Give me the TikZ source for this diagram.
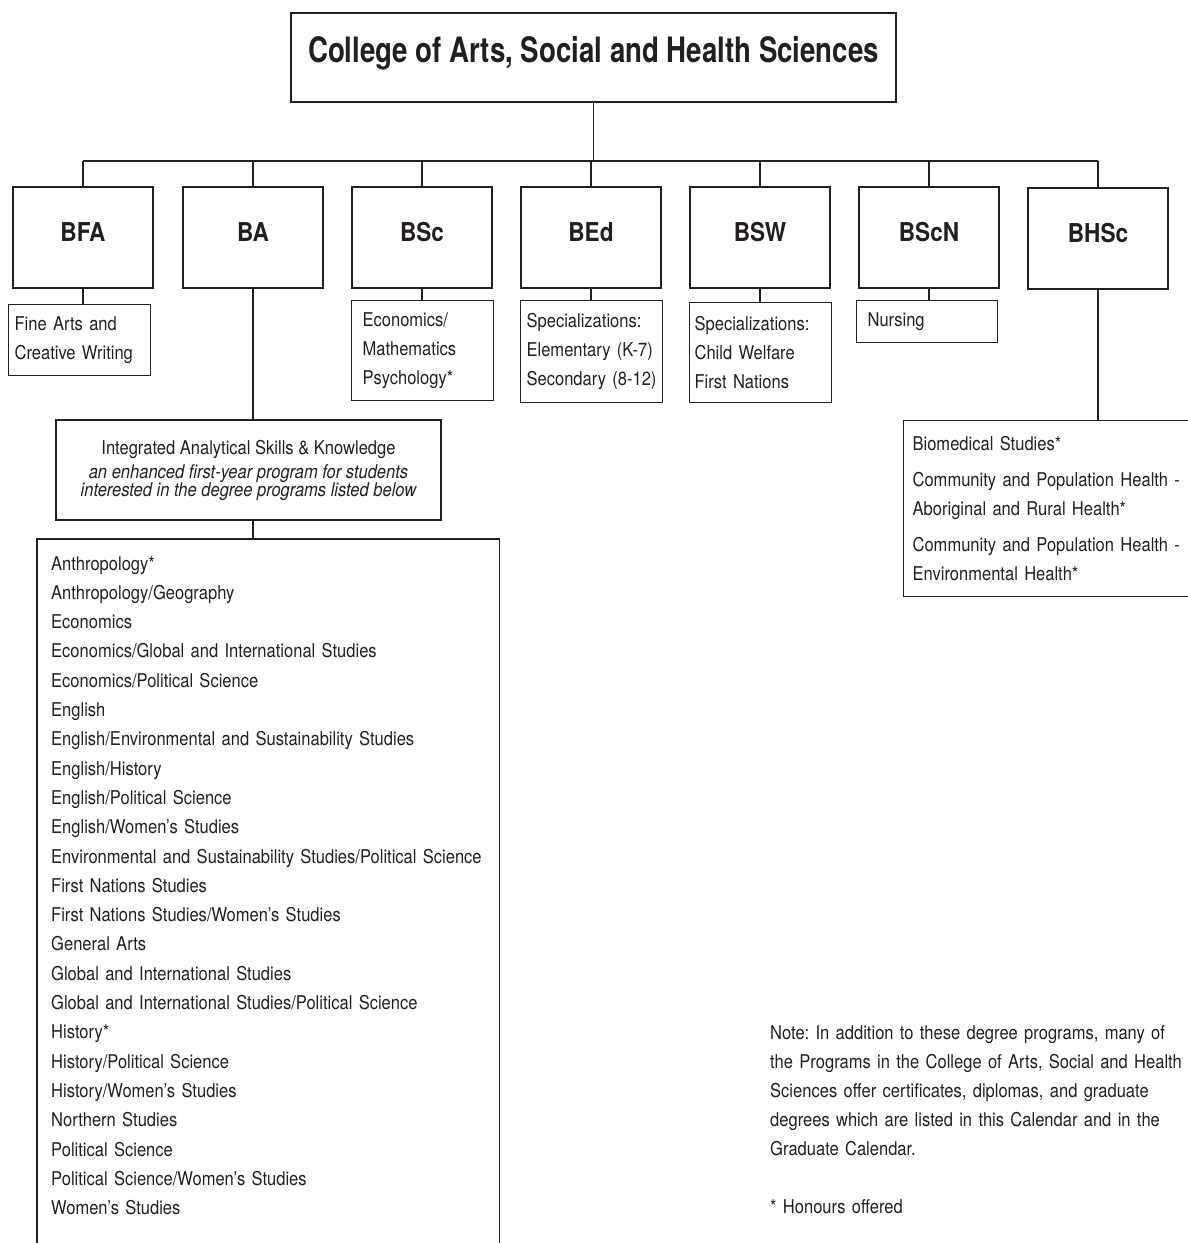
\documentclass[tikz,border=0pt]{standalone}
\usepackage{fontspec}
\setmainfont{TeX Gyre Heros}[FakeStretch=0.87]
\newfontfamily\headfont{TeX Gyre Heros}[FakeStretch=0.79]
\frenchspacing
\definecolor{ink}{HTML}{231F20}
\tikzset{
  link/.style={draw=ink, line width=1.2pt},
  degree/.style={draw=ink, line width=1.2pt, text=ink, inner sep=0pt,
    minimum width=140pt, minimum height=101pt,
    font=\fontsize{26}{30}\selectfont\bfseries, text height=19pt, text depth=12pt},
  sublist/.style={draw=ink, line width=1.2pt, text=ink, anchor=north west,
    align=left, inner xsep=6pt, inner ysep=0pt,
    font=\fontsize{19}{29}\selectfont},
}
\begin{document}
\begin{tikzpicture}[x=1pt, y=-1pt]
  \useasboundingbox (0,0) rectangle (1188,1243);

  % Top box
  \node[draw=ink, line width=1.2pt, text=ink, inner sep=0pt,
        minimum width=605pt, minimum height=89pt,
        font=\headfont\fontsize{35}{40}\selectfont\bfseries, text height=25pt, text depth=16pt]
        (college) at (593.5,57.5) {College of Arts, Social and Health Sciences};

  % Degree boxes
  \coordinate (bus) at (0,161);
  \node[degree] (bfa)  at (83,237.5)   {BFA};
  \node[degree] (ba)   at (253,237.5)  {BA};
  \node[degree] (bsc)  at (422,237.5)  {BSc};
  \node[degree] (bed)  at (591,237.5)  {BEd};
  \node[degree] (bsw)  at (760,237.5)  {BSW};
  \node[degree] (bscn) at (929,237.5)  {BScN};
  \node[degree] (bhsc) at (1098,238.5) {BHSc};

  % Programs under each degree
  \node[sublist, text width=130pt, minimum height=71pt] (bfasub) at (8,304)
    {Fine Arts and\\Creative Writing};
  \node[sublist, inner xsep=11pt, text width=120pt, minimum height=100pt] (bscsub) at (351,300)
    {Economics/\\Mathematics\\Psychology*};
  \node[sublist, text width=130pt, minimum height=102pt] (bedsub) at (520,300)
    {Specializations:\\Elementary (K-7)\\Secondary (8-12)};
  \node[sublist, inner xsep=5pt, text width=132pt, minimum height=100pt] (bswsub) at (689,302)
    {Specializations:\\Child Welfare\\First Nations};
  \node[sublist, inner xsep=11pt, text width=119pt, minimum height=42pt] (bscnsub) at (856,300)
    {Nursing};
  \node[sublist, inner xsep=9pt, text width=302pt, minimum height=176pt] (bhsclist) at (903,420)
    {Biomedical Studies*\\[7pt]
     Community and Population Health -\\Aboriginal and Rural Health*\\[7pt]
     Community and Population Health -\\Environmental Health*};

  % First-year program
  \node[draw=ink, line width=1.2pt, text=ink, align=center, inner sep=0pt,
        minimum width=385pt, minimum height=100pt,
        font=\fontsize{19}{29}\selectfont]
        (iask) at (248.5,470)
    {Integrated Analytical Skills \& Knowledge\\[-5pt]
     \itshape an enhanced first-year program for students\\[-11pt]
     \itshape interested in the degree programs listed below};

  % BA programs (box runs off the page)
  \node[text=ink, anchor=north west, align=left, inner xsep=14pt, inner ysep=17pt,
        text width=434pt, font=\fontsize{19}{29.3}\selectfont]
        (balist) at (37,539)
    {Anthropology*\\
     Anthropology/Geography\\
     Economics\\
     Economics/Global and International Studies\\
     Economics/Political Science\\
     English\\
     English/Environmental and Sustainability Studies\\
     English/History\\
     English/Political Science\\
     English/Women’s Studies\\
     Environmental and Sustainability Studies/Political Science\\
     First Nations Studies\\
     First Nations Studies/Women’s Studies\\
     General Arts\\
     Global and International Studies\\
     Global and International Studies/Political Science\\
     History*\\
     History/Political Science\\
     History/Women’s Studies\\
     Northern Studies\\
     Political Science\\
     Political Science/Women’s Studies\\
     Women’s Studies};
  \draw[link] ([yshift=-60pt]balist.south west) |- (balist.north) -| ([yshift=-60pt]balist.south east);

  % Note
  \node[text=ink, anchor=north west, align=left, inner sep=0pt, text width=420pt,
        font=\fontsize{19}{29}\selectfont]
        (note) at (770,1025)
    {Note: In addition to these degree programs, many of\\
     the Programs in the College of Arts, Social and Health\\
     Sciences offer certificates, diplomas, and graduate\\
     degrees which are listed in this Calendar and in the\\
     Graduate Calendar.\\[29pt]
     * Honours offered};

  % Connectors
  \draw[link] (college.south) -- (college.south |- bus);
  \draw[link] (bfa.north |- bus) -- (bhsc.north |- bus);
  \draw[link] (bfa.north |- bus) -- (bfa.north);
  \draw[link] (ba.north |- bus) -- (ba.north);
  \draw[link] (bsc.north |- bus) -- (bsc.north);
  \draw[link] (bed.north |- bus) -- (bed.north);
  \draw[link] (bsw.north |- bus) -- (bsw.north);
  \draw[link] (bscn.north |- bus) -- (bscn.north);
  \draw[link] (bhsc.north |- bus) -- (bhsc.north);

  \draw[link] (bfa.south) -- (bfa.south |- bfasub.north);
  \draw[link] (bsc.south) -- (bsc.south |- bscsub.north);
  \draw[link] (bed.south) -- (bed.south |- bedsub.north);
  \draw[link] (bsw.south) -- (bsw.south |- bswsub.north);
  \draw[link] (bscn.south) -- (bscn.south |- bscnsub.north);
  \draw[link] (bhsc.south) -- (bhsc.south |- bhsclist.north);
  \draw[link] (ba.south) -- (ba.south |- iask.north);
  \draw[link] (ba.south |- iask.south) -- (ba.south |- balist.north);
\end{tikzpicture}
\end{document}
